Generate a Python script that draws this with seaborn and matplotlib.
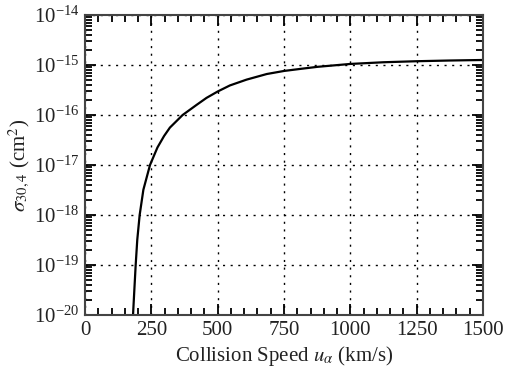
import matplotlib
matplotlib.use("Agg")
import matplotlib.pyplot as plt
import seaborn as sns
import pandas as pd
from matplotlib.ticker import LogLocator, MultipleLocator, NullFormatter

speed = [181, 186, 191, 197, 206, 220, 245, 273, 298, 320, 368, 421, 458,
         500, 546, 609, 685, 750, 815, 877, 1000, 1125, 1250, 1375, 1500]
sigma = [1.0e-20, 3.2e-20, 1.0e-19, 3.2e-19, 1.0e-18, 3.2e-18, 1.0e-17,
         2.24e-17, 3.8e-17, 5.6e-17, 1.0e-16, 1.6e-16, 2.2e-16, 2.95e-16,
         3.9e-16, 5.1e-16, 6.6e-16, 7.6e-16, 8.4e-16, 9.2e-16, 1.05e-15,
         1.135e-15, 1.19e-15, 1.23e-15, 1.26e-15]
x_ticks = [0, 250, 500, 750, 1000, 1250, 1500]
y_ticks = [1e-20, 1e-19, 1e-18, 1e-17, 1e-16, 1e-15, 1e-14]

sns.set_style("ticks")
plt.rcParams["font.family"] = ["Liberation Serif", "DejaVu Serif"]
plt.rcParams["mathtext.fontset"] = "stix"
plt.rcParams["xtick.direction"] = "in"
plt.rcParams["ytick.direction"] = "in"

df = pd.DataFrame({"speed": speed, "sigma": sigma})

fig = plt.figure(figsize=(5.05, 3.73), dpi=100)
ax = fig.add_axes([85 / 505, 58 / 373, 398 / 505, 300 / 373])
sns.lineplot(data=df, x="speed", y="sigma", ax=ax, color="black",
             linewidth=1.6, zorder=3)
ax.set_yscale("log")
ax.set_xlim(0, 1500)
ax.set_ylim(1e-20, 1e-14)
ax.set_xticks(x_ticks)
ax.set_yticks(y_ticks)
ax.xaxis.set_minor_locator(MultipleLocator(50))
ax.yaxis.set_minor_locator(LogLocator(base=10, subs=[2, 3, 4, 5, 6, 7, 8, 9],
                                      numticks=20))
ax.yaxis.set_minor_formatter(NullFormatter())

ax.grid(True, which="major", color="black", linestyle=(0, (1.5, 4)),
        linewidth=1.0)
ax.tick_params(which="both", direction="in", top=True, right=True,
               bottom=True, left=True, labelsize=15, color="black",
               labelcolor="#222222", zorder=5)
ax.tick_params(which="major", length=8, width=1.3, pad=4)
ax.tick_params(which="minor", length=5, width=1.3)
for s in ax.spines.values():
    s.set_linewidth(1.5)
    s.set_color("#444444")
    s.set_visible(True)
    s.set_zorder(6)

ax.set_xlabel(r"Collision Speed $u_\alpha$ (km/s)", fontsize=15,
              color="#222222", labelpad=3)
ax.set_ylabel(r"$\sigma_{30,4}$ (cm$^2$)", fontsize=15, color="#222222",
              labelpad=1)

fig.savefig("out.png", dpi=100)
